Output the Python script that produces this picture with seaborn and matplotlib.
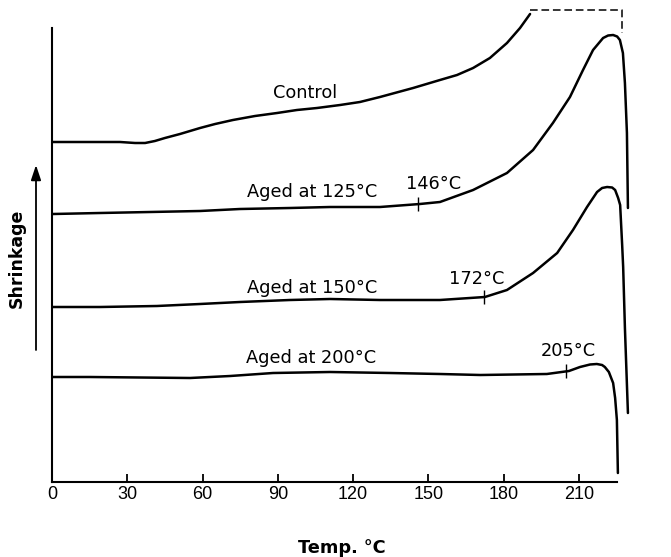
import numpy as np
import pandas as pd
import matplotlib
matplotlib.use("Agg")
import matplotlib.pyplot as plt
import seaborn as sns

# ---- data (temperature in deg C, shrinkage in arbitrary units) ----
control_t = [0, 15.1, 27.1, 33.1, 37.1, 41.0, 45.0, 51.0, 59.0, 65.0, 72.1, 80.9, 89.7,
             97.6, 105.6, 114.8, 122.7, 130.7, 143.9, 154.6, 161.4, 167.8, 174.5,
             181.3, 186.5, 190.5]
control_s = [340, 340, 340, 339, 339, 341, 344, 348, 354, 358, 362, 366, 369,
             372, 374, 377, 380, 385, 394, 402, 407, 414, 424,
             439, 454, 468]

aged125_t = [0.4, 19.1, 39.1, 59.0, 74.9, 94.8, 110.8, 130.7, 146.6, 154.6, 167.8,
             181.3, 191.7, 199.6, 206.4, 211.6, 215.6, 219.6, 221.6, 223.6, 225.2,
             226.3, 227.5, 228.3, 229.1, 229.5]
aged125_s = [268, 269, 270, 271, 273, 274, 275, 275, 278, 280, 292,
             309, 332, 359, 385, 412, 432, 444, 446.5, 447, 445.5,
             442, 429, 399, 349, 274]

aged150_t = [0.4, 19.1, 41.8, 59.0, 74.9, 94.8, 110.8, 130.7, 154.6, 172.5, 181.3,
             191.7, 201.3, 207.6, 213.2, 217.2, 219.2, 221.2, 223.2, 224.4, 225.6,
             226.4, 227.2, 227.6, 228.3, 229.5]
aged150_s = [175, 175, 176, 178, 180, 182, 183, 182, 182, 185, 192,
             209, 229, 252, 275, 290, 294, 295, 294.5, 292, 284,
             277, 237, 215, 154, 69]

aged200_t = [0.4, 15.1, 35.1, 55.0, 71.0, 88.1, 110.8, 134.7, 154.6, 170.7, 197.2,
             206.0, 210.4, 214.4, 217.1, 219.2, 220.3, 221.9, 223.6, 224.4, 225.1, 225.5]
aged200_s = [105, 105, 104.5, 104, 106, 109, 110, 109, 108, 107, 108,
             111, 115, 117.5, 118, 117, 115, 110, 99, 84, 62, 9]

# dashed continuation of the control trace (off scale)
offscale_t = [190.5, 227.1, 227.1]
offscale_s = [472, 472, 449]

curve_labels = ["Control", "Aged at 125°C", "Aged at 150°C", "Aged at 200°C"]
onset_temps = [146, 172, 205]
onset_labels = ["146°C", "172°C", "205°C"]
xticks = [0, 30, 60, 90, 120, 150, 180, 210]

frames = []
for name, t, s in [("Control", control_t, control_s),
                   ("Aged at 125°C", aged125_t, aged125_s),
                   ("Aged at 150°C", aged150_t, aged150_s),
                   ("Aged at 200°C", aged200_t, aged200_s)]:
    frames.append(pd.DataFrame({"temp": t, "shrink": s, "curve": name}))
df = pd.concat(frames, ignore_index=True)

sns.set_theme(style="white")
plt.rcParams["font.family"] = ["DejaVu Sans"]
plt.rcParams["text.color"] = "black"
plt.rcParams["xtick.color"] = "black"
plt.rcParams["xtick.labelcolor"] = "black"
plt.rcParams["lines.solid_joinstyle"] = "round"
plt.rcParams["lines.solid_capstyle"] = "round"

W, H = 671, 557
fig = plt.figure(figsize=(W / 100, H / 100), dpi=100)
ax = fig.add_axes([52 / W, (H - 482) / H, (W - 52) / W, 482 / H])

sns.lineplot(data=df, x="temp", y="shrink", units="curve", estimator=None, sort=False,
             color="black", linewidth=1.8, ax=ax, legend=False)
sns.lineplot(x=offscale_t, y=offscale_s, sort=False, estimator=None, color="black",
             linewidth=1.1, ax=ax, legend=False, clip_on=False)
ax.lines[-1].set_dashes((5, 2.5))

ax.set_xlim(0, 619 / 2.5095)
ax.set_ylim(0, 482)

# onset ticks on curves
onset_curves = [(aged125_t, aged125_s), (aged150_t, aged150_s), (aged200_t, aged200_s)]
for T, (t, s) in zip(onset_temps, onset_curves):
    yv = np.interp(T, t, s)
    ax.vlines(T, yv - 7, yv + 7, color="black", linewidth=1.0)

# text annotations
ann_kw = dict(fontsize=12.8, color="black", family="DejaVu Sans", va="baseline", ha="center")
ax.text(100.8, 383.7, curve_labels[0], **ann_kw)
ax.text(103.8, 284.7, curve_labels[1], **ann_kw)
ax.text(103.8, 189.3, curve_labels[2], **ann_kw)
ax.text(103.4, 118.7, curve_labels[3], **ann_kw)
ax.text(152.0, 293.0, onset_labels[0], **ann_kw)
ax.text(169.2, 198.0, onset_labels[1], **ann_kw)
ax.text(205.6, 126.0, onset_labels[2], **ann_kw)

# axes styling
for side in ["top", "right"]:
    ax.spines[side].set_visible(False)
for side in ["left", "bottom"]:
    ax.spines[side].set_color("black")
    ax.spines[side].set_linewidth(1.5)
ax.spines["left"].set_bounds(0, 454)
ax.spines["bottom"].set_bounds(0, 225)

ax.set_xticks(xticks)
ax.set_xticklabels([str(v) for v in xticks], fontsize=13, family="Liberation Sans",
                   color="black")
ax.set_yticks([])
ax.tick_params(axis="x", direction="in", length=6, width=1.3, color="black", pad=3,
               bottom=True, labelcolor="black")
ax.set_xlabel("")
ax.set_ylabel("")

fig.text(342 / W, (H - 553) / H, "Temp. °C", fontsize=12.8, fontweight="bold",
         family="DejaVu Sans", ha="center", va="baseline", color="black")
fig.text(17 / W, (H - 258) / H, "Shrinkage", fontsize=12.5, fontweight="bold",
         family="DejaVu Sans", ha="center", va="center", rotation=90, color="black")
ax.annotate("", xy=(36 / W, (H - 165) / H), xytext=(36 / W, (H - 350) / H),
            xycoords="figure fraction", textcoords="figure fraction",
            arrowprops=dict(arrowstyle="-|>,head_length=0.9,head_width=0.3",
                            color="black", lw=1.3, shrinkA=0, shrinkB=0,
                            mutation_scale=10))

fig.savefig("out.png", dpi=100)
